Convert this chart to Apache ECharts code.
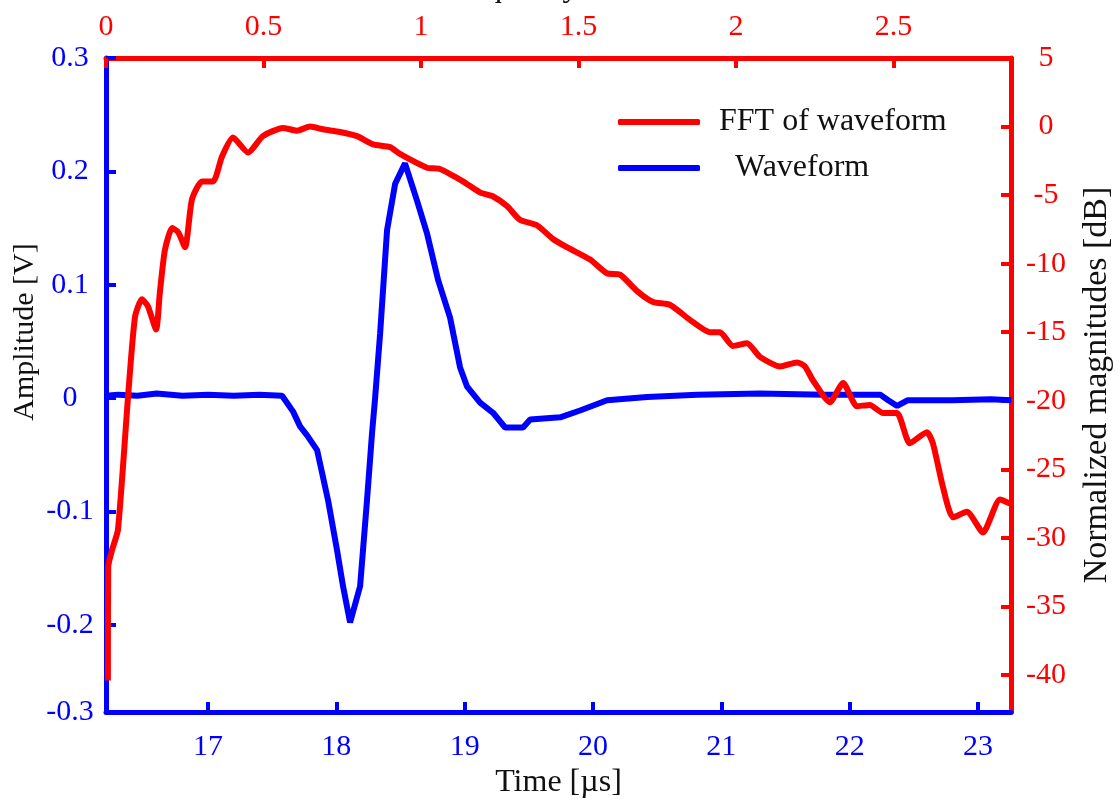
<!DOCTYPE html>
<html>
<head>
<meta charset="utf-8">
<title>Waveform and FFT</title>
<script src="https://cdn.jsdelivr.net/npm/echarts@6/dist/echarts.min.js"></script>
<style>
  html, body { margin: 0; padding: 0; background: #fff; }
  #chart { width: 1120px; height: 803px; }
</style>
</head>
<body>
<div id="chart"></div>
<script>
// time axis (bottom, µs) and waveform amplitude (left, V)
const timeTicks = [17, 18, 19, 20, 21, 22, 23]
const ampTicks = [-0.3, -0.2, -0.1, 0, 0.1, 0.2, 0.3]
// frequency axis (top, MHz) and FFT magnitude (right, dB)
const freqTicks = [0, 0.5, 1, 1.5, 2, 2.5]
const dbTicks = [-40, -35, -30, -25, -20, -15, -10, -5, 0, 5]

const waveTime = [16.205, 16.3, 16.45, 16.6, 16.8, 17.0, 17.2, 17.4, 17.577, 17.663, 17.717, 17.772, 17.85, 17.935,
  18.005, 18.052, 18.107, 18.185, 18.239, 18.278, 18.302, 18.341, 18.395, 18.458, 18.535, 18.629, 18.707, 18.793,
  18.886, 18.964, 19.019, 19.12, 19.221, 19.315, 19.455, 19.51, 19.744, 19.899, 20.11, 20.422, 20.811, 21.3, 21.8,
  22.238, 22.3, 22.37, 22.45, 22.8, 23.1, 23.259]
const waveAmp = [0.002, 0.003, 0.002, 0.004, 0.002, 0.003, 0.002, 0.003, 0.002, -0.012, -0.025, -0.033, -0.046, -0.09,
  -0.134, -0.166, -0.198, -0.166, -0.09, -0.031, 0, 0.057, 0.148, 0.189, 0.207, 0.174, 0.145, 0.104,
  0.071, 0.027, 0.01, -0.004, -0.013, -0.026, -0.026, -0.019, -0.017, -0.011, -0.002, 0.001, 0.003, 0.004, 0.003,
  0.003, -0.002, -0.007, -0.002, -0.002, -0.001, -0.002]

const fftFreq = [0.006, 0.007, 0.019, 0.038, 0.070, 0.092, 0.114, 0.133, 0.159, 0.171, 0.187, 0.210, 0.229, 0.251,
  0.273, 0.305, 0.340, 0.368, 0.403, 0.451, 0.498, 0.562, 0.606, 0.648, 0.689, 0.743, 0.797, 0.848, 0.902, 0.933,
  1.019, 1.060, 1.133, 1.187, 1.229, 1.273, 1.314, 1.368, 1.419, 1.463, 1.537, 1.590, 1.632, 1.686, 1.737, 1.790,
  1.854, 1.917, 1.949, 1.990, 2.035, 2.076, 2.140, 2.194, 2.219, 2.244, 2.298, 2.340, 2.384, 2.425, 2.467, 2.511,
  2.552, 2.606, 2.625, 2.657, 2.689, 2.733, 2.784, 2.838, 2.870]
const fftDb = [-40.4, -32.1, -30.9, -29.4, -19.7, -13.9, -12.6, -13.1, -14.8, -12.1, -9.0, -7.4, -7.7, -8.8,
  -5.3, -4.0, -4.0, -2.2, -0.8, -1.9, -0.7, -0.1, -0.3, 0.0, -0.2, -0.4, -0.7, -1.3, -1.5, -2.0,
  -3.0, -3.1, -4.0, -4.8, -5.1, -5.8, -6.8, -7.2, -8.2, -8.8, -9.7, -10.7, -10.8, -12.0, -12.8, -13.0,
  -14.1, -15.0, -15.0, -16.0, -15.8, -16.8, -17.5, -17.2, -17.5, -18.5, -20.1, -18.7, -20.4, -20.3, -20.9, -20.9,
  -23.1, -22.3, -23.1, -26.3, -28.5, -28.1, -29.6, -27.2, -27.5]

const BLUE = '#0000ff'
const RED = '#ff0000'
const FONT = 'Liberation Serif'

// axis extents
const timeMin = 16.205, timeMax = 23.257
const freqMin = 0, freqMax = 2.873
const ampMin = -0.277, ampMax = 0.3
const dbMin = -42.7, dbMax = 5

const chart = echarts.init(document.getElementById('chart'), null, { renderer: 'canvas' })

// thick coloured frame, ticks pointing inwards
function axisStyle(color, ticks) {
  return {
    axisLine: { show: true, onZero: false, lineStyle: { color: color, width: 5 } },
    axisTick: { show: true, inside: true, length: 10, customValues: ticks, lineStyle: { color: color, width: 4 } },
    splitLine: { show: false }
  }
}

const option = {
  animation: false,
  backgroundColor: '#fff',
  grid: { left: 106, right: 109, top: 58, bottom: 91, containLabel: false, outerBoundsMode: 'none' },
  legend: {
    orient: 'vertical',
    left: 613,
    top: 101,
    itemGap: 14,
    itemWidth: 82,
    itemHeight: 6,
    icon: 'roundRect',
    data: ['FFT of waveform', 'Waveform'],
    formatter: function (name) {
      return name === 'Waveform' ? '  ' + name : name
    },
    textStyle: { fontFamily: FONT, fontSize: 32, color: '#111', padding: [0, 0, 0, 14] }
  },
  xAxis: [
    Object.assign({
      type: 'value', position: 'bottom', min: timeMin, max: timeMax,
      name: 'Time [µs]', nameLocation: 'middle', nameGap: 53,
      nameTextStyle: { fontFamily: FONT, fontSize: 32, color: '#111' },
      axisLabel: { customValues: timeTicks, color: BLUE, fontFamily: FONT, fontSize: 30, margin: 20 }
    }, axisStyle(BLUE, timeTicks)),
    Object.assign({
      type: 'value', position: 'top', min: freqMin, max: freqMax,
      name: 'Frequency [MHz]', nameLocation: 'middle', nameGap: 54,
      nameTextStyle: { fontFamily: FONT, fontSize: 32, color: '#111' },
      axisLabel: { customValues: freqTicks, color: RED, fontFamily: FONT, fontSize: 30, margin: 16 }
    }, axisStyle(RED, freqTicks))
  ],
  yAxis: [
    Object.assign({
      type: 'value', position: 'left', min: ampMin, max: ampMax,
      axisLabel: {
        customValues: ampTicks.map(v => Math.max(v, ampMin)),
        formatter: v => (v <= ampMin ? String(ampTicks[0]) : String(v)),
        color: BLUE, fontFamily: FONT, fontSize: 30, margin: 36, align: 'center'
      }
    }, axisStyle(BLUE, ampTicks.slice(1))),
    Object.assign({
      type: 'value', position: 'right', min: dbMin, max: dbMax,
      name: 'Normalized magnitudes [dB]', nameLocation: 'middle', nameGap: 69,
      nameTextStyle: { fontFamily: FONT, fontSize: 34, color: '#111' },
      axisLabel: { customValues: dbTicks, color: RED, fontFamily: FONT, fontSize: 30, margin: 35, align: 'center' }
    }, axisStyle(RED, dbTicks))
  ],
  graphic: [{
    type: 'text',
    x: 25,
    y: 332,
    rotation: Math.PI / 2,
    style: {
      text: 'Amplitude [V]',
      fontFamily: FONT,
      fontSize: 30,
      fill: '#111',
      align: 'center',
      verticalAlign: 'middle'
    }
  }],
  series: [
    {
      name: 'Waveform',
      type: 'line',
      xAxisIndex: 0,
      yAxisIndex: 0,
      showSymbol: false,
      color: BLUE,
      lineStyle: { color: BLUE, width: 6 },
      data: waveTime.map((t, i) => [t, waveAmp[i]])
    },
    {
      name: 'FFT of waveform',
      type: 'line',
      xAxisIndex: 1,
      yAxisIndex: 1,
      showSymbol: false,
      smooth: 0.2,
      color: RED,
      lineStyle: { color: RED, width: 6 },
      data: fftFreq.map((f, i) => [f, fftDb[i]])
    }
  ]
}

chart.setOption(option)
</script>
</body>
</html>
